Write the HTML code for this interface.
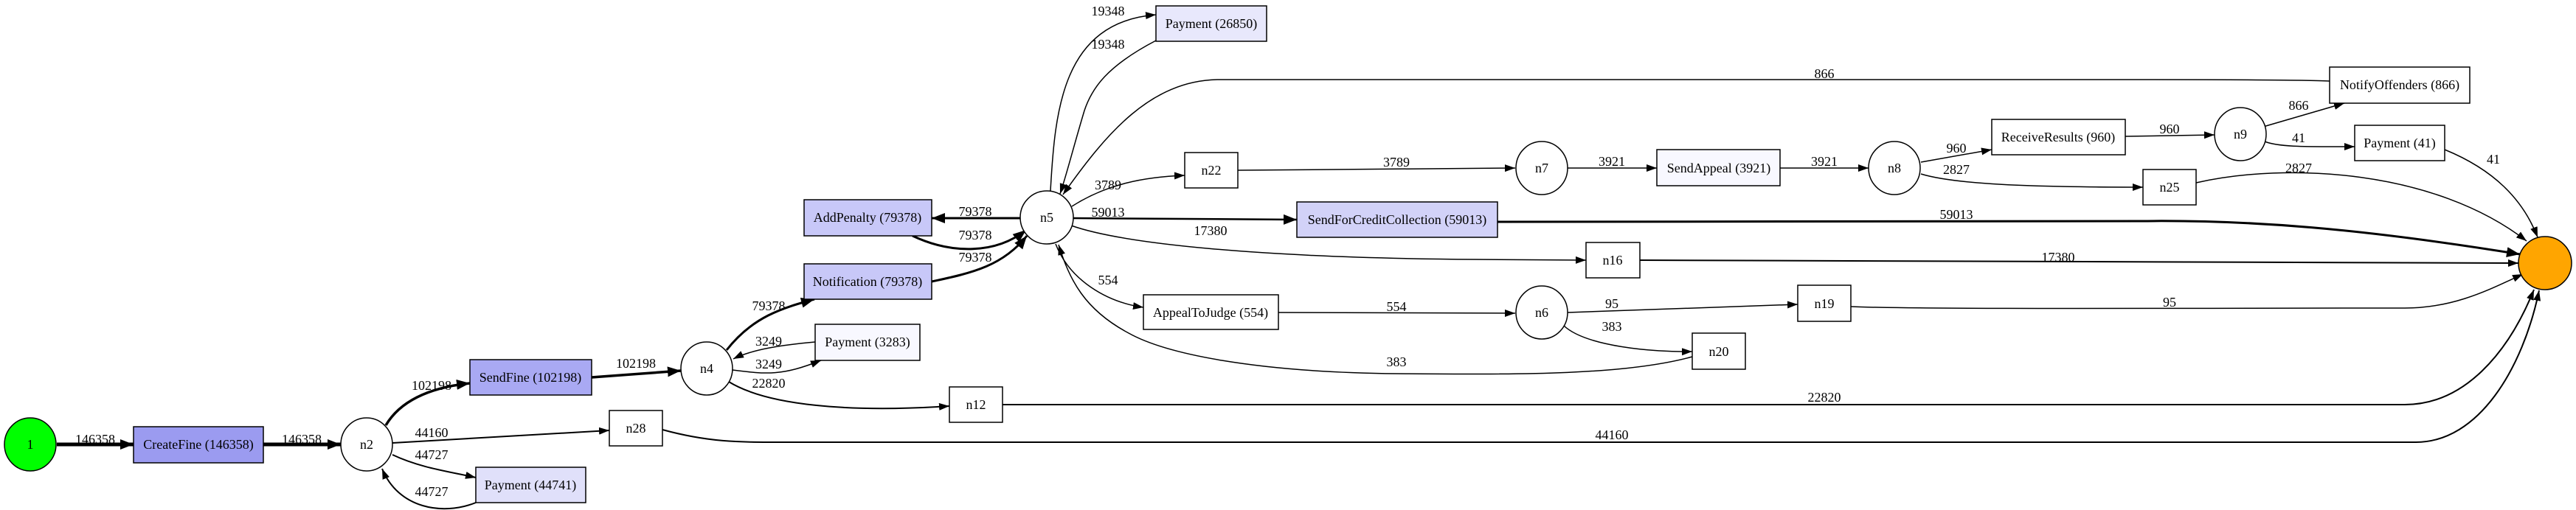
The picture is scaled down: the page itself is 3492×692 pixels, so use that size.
<!DOCTYPE html>
<html><head><meta charset="utf-8"><style>
html,body{margin:0;padding:0;background:#fff;}
svg{display:block;}
text{font-family:"Liberation Serif",serif;font-size:18px;fill:#000;}
.n{fill:none;stroke:#000;stroke-width:1.5;}
</style></head><body>
<svg width="3492" height="692" viewBox="0 0 3492 692" xmlns="http://www.w3.org/2000/svg">
<defs>
<marker id="a" markerUnits="userSpaceOnUse" markerWidth="16" markerHeight="12" refX="14" refY="5" orient="auto"><path d="M0,0 L14,5 L0,10 z" fill="#000"/></marker>
<marker id="b" markerUnits="userSpaceOnUse" markerWidth="20" markerHeight="16" refX="18" refY="7" orient="auto"><path d="M0,0 L18,7 L0,14 z" fill="#000"/></marker>
</defs>
<g fill="none" stroke="#000">
<path d="M77,603 L181,603" stroke-width="5" marker-end="url(#b)"/>
<path d="M357,603 L462,603" stroke-width="5" marker-end="url(#b)"/>
<path d="M523,577 C545,540 590,525 637,520" stroke-width="3.5" marker-end="url(#b)"/>
<path d="M532,601 L826,584" stroke-width="2" marker-end="url(#a)"/>
<path d="M532,617 C570,635 610,640 645,648" stroke-width="2" marker-end="url(#a)"/>
<path d="M645,682 C600,700 540,690 518,636" stroke-width="2" marker-end="url(#a)"/>
<path d="M802,512 L923,503" stroke-width="3.5" marker-end="url(#b)"/>
<path d="M985,475 C1020,430 1060,418 1104,406" stroke-width="3" marker-end="url(#b)"/>
<path d="M1105,464 C1060,468 1020,474 994,487" stroke-width="1.5" marker-end="url(#a)"/>
<path d="M993,502 C1040,508 1060,510 1113,489" stroke-width="1.5" marker-end="url(#a)"/>
<path d="M988,518 C1040,550 1150,560 1287,551" stroke-width="2" marker-end="url(#a)"/>
<path d="M1263,382 C1320,370 1360,360 1392,320" stroke-width="3" marker-end="url(#b)"/>
<path d="M1237,320 C1290,345 1350,345 1391,312" stroke-width="3" marker-end="url(#b)"/>
<path d="M1384,296 L1263,296" stroke-width="3" marker-end="url(#b)"/>
<path d="M1424,259 C1430,150 1440,30 1567,20" stroke-width="1.5" marker-end="url(#a)"/>
<path d="M1567,55 C1500,90 1480,120 1470,150 C1455,200 1445,240 1437,263" stroke-width="1.5" marker-end="url(#a)"/>
<path d="M3158,110 C3120,108 3000,108 2900,108 L1650,108 C1560,110 1500,180 1441,264" stroke-width="1.5" marker-end="url(#a)"/>
<path d="M1453,280 C1500,250 1550,240 1606,238" stroke-width="1.5" marker-end="url(#a)"/>
<path d="M1678,231 L2054,228" stroke-width="1.5" marker-end="url(#a)"/>
<path d="M2125,228 L2246,228" stroke-width="1.5" marker-end="url(#a)"/>
<path d="M2413,228 L2533,228" stroke-width="1.5" marker-end="url(#a)"/>
<path d="M2604,220 L2700,203" stroke-width="1.5" marker-end="url(#a)"/>
<path d="M2604,236 C2650,250 2750,254 2905,254" stroke-width="1.5" marker-end="url(#a)"/>
<path d="M2881,185 L3002,183" stroke-width="1.5" marker-end="url(#a)"/>
<path d="M3068,172 L3178,140" stroke-width="1.5" marker-end="url(#a)"/>
<path d="M3070,192 C3090,200 3130,199 3192,199" stroke-width="1.5" marker-end="url(#a)"/>
<path d="M3314,203 C3380,230 3420,270 3440,322" stroke-width="1.5" marker-end="url(#a)"/>
<path d="M2977,248 C3100,220 3300,230 3425,327" stroke-width="1.5" marker-end="url(#a)"/>
<path d="M2030,301 L2900,300 C3050,298 3200,310 3416,345" stroke-width="3" marker-end="url(#b)"/>
<path d="M1454,296 L1758,298" stroke-width="2.5" marker-end="url(#b)"/>
<path d="M1452,306 C1520,330 1700,350 2000,352 L2150,353" stroke-width="1.5" marker-end="url(#a)"/>
<path d="M2223,353 L3414,357" stroke-width="2" marker-end="url(#a)"/>
<path d="M1431,331 C1450,380 1500,410 1550,417" stroke-width="1.5" marker-end="url(#a)"/>
<path d="M1733,424 L2054,425" stroke-width="1.5" marker-end="url(#a)"/>
<path d="M2125,424 L2437,413" stroke-width="1.5" marker-end="url(#a)"/>
<path d="M2509,416 C2600,420 3000,418 3260,418 C3330,418 3380,390 3420,372" stroke-width="1.5" marker-end="url(#a)"/>
<path d="M2120,442 C2150,470 2240,478 2294,477" stroke-width="1.5" marker-end="url(#a)"/>
<path d="M2294,484 C2200,510 2050,508 1893,507 C1700,505 1580,480 1530,452 C1470,420 1450,380 1435,332" stroke-width="1.5" marker-end="url(#a)"/>
<path d="M1359,549 L3260,549 C3340,549 3400,480 3435,393" stroke-width="2" marker-end="url(#a)"/>
<path d="M898,583 C960,600 1000,600 1060,600 L3275,600 C3360,600 3420,500 3442,394" stroke-width="2" marker-end="url(#a)"/>
</g>
<g stroke="#000" stroke-width="1.5">
<ellipse cx="41" cy="603" rx="35" ry="36" fill="#00ff00"/>
<rect x="181" y="579" width="176" height="49" fill="#9b9bf0"/>
<ellipse cx="497" cy="603" rx="35" ry="36" fill="#fff"/>
<rect x="637" y="488" width="165" height="48" fill="#a9a9f3"/>
<ellipse cx="958" cy="500" rx="35" ry="36" fill="#fff"/>
<rect x="826" y="557" width="72" height="48" fill="#fff"/>
<rect x="645" y="634" width="149" height="48" fill="#e0e0fa"/>
<rect x="1105" y="440" width="142" height="49" fill="#f8f8ff"/>
<rect x="1567" y="8" width="150" height="48" fill="#e8e8fc"/>
<rect x="1090" y="271" width="173" height="49" fill="#c8c8f8"/>
<rect x="1090" y="358" width="173" height="48" fill="#c8c8f8"/>
<ellipse cx="1419" cy="295" rx="36" ry="36" fill="#fff"/>
<rect x="1606" y="207" width="72" height="48" fill="#fff"/>
<rect x="1758" y="274" width="272" height="48" fill="#d2d2f8"/>
<rect x="1550" y="400" width="183" height="47" fill="#fff"/>
<rect x="1287" y="525" width="72" height="48" fill="#fff"/>
<ellipse cx="2090" cy="228" rx="35" ry="36" fill="#fff"/>
<ellipse cx="2090" cy="424" rx="35" ry="36" fill="#fff"/>
<rect x="2246" y="203" width="167" height="49" fill="#f8f8ff"/>
<ellipse cx="2568" cy="228" rx="35" ry="36" fill="#fff"/>
<rect x="2700" y="162" width="181" height="48" fill="#fff"/>
<ellipse cx="3037" cy="182" rx="35" ry="36" fill="#fff"/>
<rect x="3158" y="91" width="190" height="49" fill="#fff"/>
<rect x="3192" y="170" width="122" height="48" fill="#fff"/>
<rect x="2905" y="230" width="72" height="48" fill="#fff"/>
<rect x="2150" y="329" width="73" height="48" fill="#fff"/>
<rect x="2437" y="387" width="72" height="49" fill="#fff"/>
<rect x="2294" y="452" width="72" height="49" fill="#fff"/>
<ellipse cx="3450" cy="357" rx="36" ry="36" fill="#ffa500"/>
</g>
<g text-anchor="middle">
<text x="41" y="609">1</text>
<text x="269" y="609">CreateFine (146358)</text>
<text x="497" y="609">n2</text>
<text x="719" y="518">SendFine (102198)</text>
<text x="958" y="506">n4</text>
<text x="862" y="587">n28</text>
<text x="719" y="664">Payment (44741)</text>
<text x="1176" y="470">Payment (3283)</text>
<text x="1642" y="38">Payment (26850)</text>
<text x="1176" y="301">AddPenalty (79378)</text>
<text x="1176" y="388">Notification (79378)</text>
<text x="1419" y="301">n5</text>
<text x="1642" y="237">n22</text>
<text x="1894" y="304">SendForCreditCollection (59013)</text>
<text x="1641" y="430">AppealToJudge (554)</text>
<text x="1323" y="555">n12</text>
<text x="2090" y="234">n7</text>
<text x="2090" y="430">n6</text>
<text x="2330" y="234">SendAppeal (3921)</text>
<text x="2568" y="234">n8</text>
<text x="2790" y="192">ReceiveResults (960)</text>
<text x="3037" y="188">n9</text>
<text x="3253" y="121">NotifyOffenders (866)</text>
<text x="3253" y="200">Payment (41)</text>
<text x="2941" y="260">n25</text>
<text x="2186" y="359">n16</text>
<text x="2473" y="418">n19</text>
<text x="2330" y="483">n20</text>
</g>
<g text-anchor="middle" font-size="17">
<text x="129" y="602">146358</text>
<text x="409" y="602">146358</text>
<text x="585" y="529">102198</text>
<text x="585" y="593">44160</text>
<text x="585" y="623">44727</text>
<text x="585" y="673">44727</text>
<text x="862" y="499">102198</text>
<text x="1042" y="421">79378</text>
<text x="1042" y="469">3249</text>
<text x="1042" y="500">3249</text>
<text x="1042" y="526">22820</text>
<text x="1322" y="355">79378</text>
<text x="1322" y="325">79378</text>
<text x="1322" y="293">79378</text>
<text x="1502" y="21">19348</text>
<text x="1502" y="66">19348</text>
<text x="2473" y="106">866</text>
<text x="1502" y="257">3789</text>
<text x="1893" y="226">3789</text>
<text x="2185" y="225">3921</text>
<text x="2473" y="225">3921</text>
<text x="2652" y="207">960</text>
<text x="2652" y="236">2827</text>
<text x="2941" y="181">960</text>
<text x="3116" y="149">866</text>
<text x="3116" y="193">41</text>
<text x="3380" y="222">41</text>
<text x="3116" y="234">2827</text>
<text x="2652" y="297">59013</text>
<text x="1502" y="294">59013</text>
<text x="1641" y="319">17380</text>
<text x="2790" y="355">17380</text>
<text x="1502" y="386">554</text>
<text x="1893" y="422">554</text>
<text x="2185" y="418">95</text>
<text x="2941" y="416">95</text>
<text x="2185" y="449">383</text>
<text x="1893" y="497">383</text>
<text x="2473" y="545">22820</text>
<text x="2185" y="596">44160</text>
</g>
</svg>
</body></html>
